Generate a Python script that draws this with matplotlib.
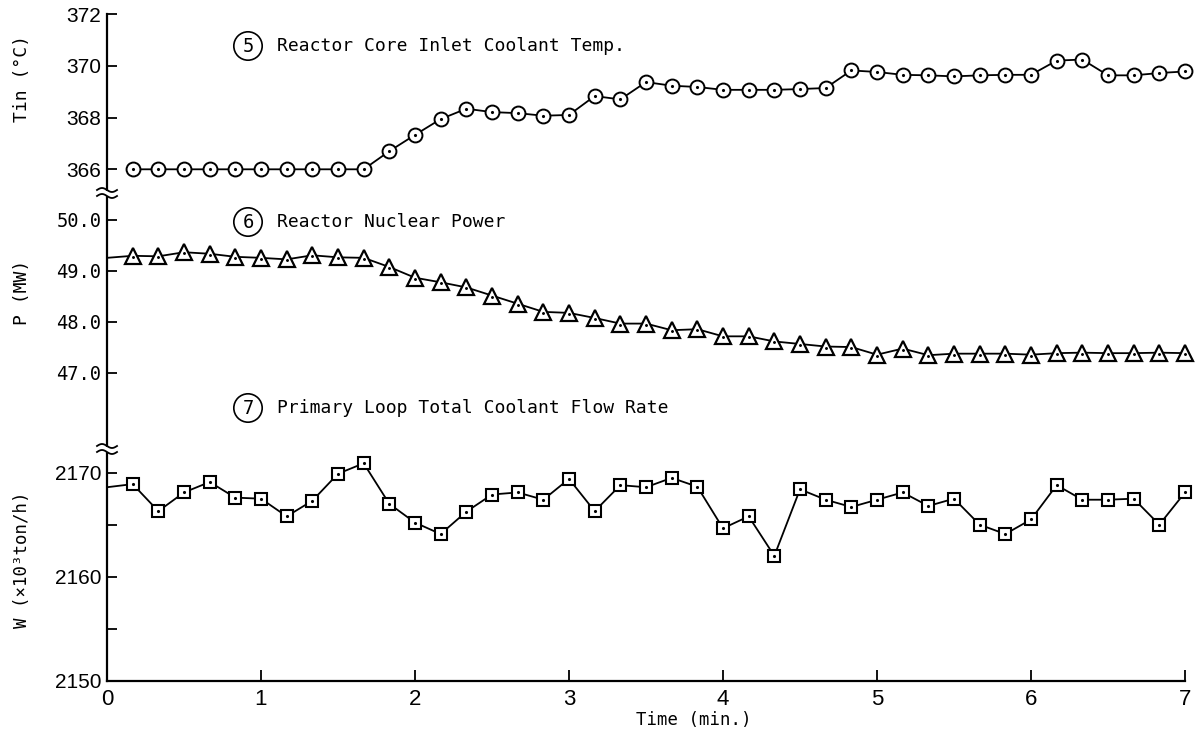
import matplotlib.pyplot as plt
import numpy as np

# time in minutes, one sample every 10 s
t = np.arange(0, 43) / 6.0

# (5) reactor core inlet coolant temperature, deg C (no value drawn at t=0)
tin = [np.nan,
       366.0, 366.0, 366.0, 366.0, 366.0, 366.0, 366.0, 366.0, 366.0, 366.0,
       366.7, 367.33, 367.94, 368.34, 368.21, 368.17, 368.07, 368.1, 368.83, 368.7,
       369.37, 369.23, 369.18, 369.07, 369.07, 369.07, 369.1, 369.14, 369.82, 369.76,
       369.65, 369.63, 369.59, 369.63, 369.65, 369.65, 370.2, 370.24, 369.63, 369.63,
       369.72, 369.78]

# (6) reactor nuclear power, MW
power = [49.25,
         49.29, 49.28, 49.36, 49.33, 49.27, 49.25, 49.22, 49.3, 49.26, 49.25,
         49.07, 48.86, 48.77, 48.67, 48.51, 48.35, 48.19, 48.17, 48.07, 47.96,
         47.96, 47.83, 47.85, 47.71, 47.71, 47.61, 47.56, 47.51, 47.5, 47.35,
         47.47, 47.34, 47.37, 47.37, 47.37, 47.35, 47.38, 47.39, 47.38, 47.38,
         47.39, 47.38]

# (7) primary loop total coolant flow rate, 10^3 ton/h
flow = [2168.6,
        2168.9, 2166.3, 2168.1, 2169.1, 2167.6, 2167.5, 2165.8, 2167.3, 2169.9, 2170.9,
        2167.0, 2165.2, 2164.1, 2166.25, 2167.9, 2168.1, 2167.4, 2169.4, 2166.3, 2168.8,
        2168.6, 2169.5, 2168.65, 2164.65, 2165.8, 2162.0, 2168.4, 2167.4, 2166.7, 2167.4,
        2168.1, 2166.8, 2167.5, 2165.0, 2164.1, 2165.5, 2168.8, 2167.4, 2167.4, 2167.5,
        2165.0, 2168.1]

W, H = 1199, 737
mono = ['DejaVu Sans Mono', 'DejaVu Sans']
narrow = ['Liberation Sans Narrow', 'Liberation Sans', 'DejaVu Sans']

def fx(px):
    return px / W

def fy(py):
    return 1 - py / H

fig = plt.figure(figsize=(W / 100, H / 100), dpi=100)

xl, xr = 107, 1185
panels = [(14, 192.6, (365.1, 372.0)),
          (192.6, 450, (45.48, 50.53)),
          (450, 680.7, (2150.0, 2172.18))]
axes = []
for top, bot, lim in panels:
    ax = fig.add_axes([fx(xl), fy(bot), fx(xr) - fx(xl), (bot - top) / H])
    ax.set_xlim(0, 7)
    ax.set_ylim(*lim)
    ax.patch.set_alpha(0)
    for s in ['top', 'right', 'bottom']:
        ax.spines[s].set_visible(False)
    ax.spines['left'].set_linewidth(1.6)
    ax.tick_params(axis='y', direction='in', length=7, width=1.3, pad=4)
    axes.append(ax)

ax1, ax2, ax3 = axes

lw = 1.3
ax1.plot(t, tin, '-', color='k', lw=lw, marker='o', ms=10, mfc='white', mec='k', mew=1.4, clip_on=False)
ax1.plot(t, tin, '.', color='k', ms=2.5, clip_on=False)
ax1.set_yticks([366, 368, 370, 372])
ax1.set_yticklabels(['366', '368', '370', '372'], family=narrow, fontsize=15)

ax2.plot(t, power, '-', color='k', lw=lw, clip_on=False)
ax2.plot(t[1:], power[1:], ls='none', marker='^', ms=11, mfc='white', mec='k', mew=1.6, clip_on=False)
ax2.plot(t[1:], np.array(power[1:]) - 0.02, '.', color='k', ms=2.2, clip_on=False)
ax2.set_yticks([47, 48, 49, 50])
ax2.set_yticklabels(['47.0', '48.0', '49.0', '50.0'], family=mono, fontsize=13.5)

ax3.plot(t, flow, '-', color='k', lw=lw, clip_on=False)
ax3.plot(t[1:], flow[1:], ls='none', marker='s', ms=9, mfc='white', mec='k', mew=1.5, clip_on=False)
ax3.plot(t[1:], flow[1:], '.', color='k', ms=2.5, clip_on=False)
ax3.set_yticks([2150, 2160, 2170])
ax3.set_yticklabels(['2150', '2160', '2170'], family=narrow, fontsize=15)
ax3.set_yticks([2155, 2165], minor=True)
ax3.tick_params(axis='y', which='minor', direction='in', length=7, width=1.3)
ax3.spines['bottom'].set_visible(True)
ax3.spines['bottom'].set_linewidth(1.6)
ax3.set_xticks(range(8))
ax3.set_xticklabels([str(i) for i in range(8)], family=narrow, fontsize=16)
ax3.tick_params(axis='x', direction='in', length=8, width=1.3, pad=6)
for ax in (ax1, ax2):
    ax.tick_params(axis='x', bottom=False, labelbottom=False)

# axis labels
fig.text(fx(22), fy(78), 'Tin (°C)', rotation=90, ha='center', va='center', family=mono, fontsize=13)
fig.text(fx(22), fy(292), 'P (MW)', rotation=90, ha='center', va='center', family=mono, fontsize=13)
fig.text(fx(22), fy(560), 'W (×10³ton/h)', rotation=90, ha='center', va='center', family=mono, fontsize=12.5)
fig.text(fx(694), fy(720), 'Time (min.)', ha='center', va='center', family=mono, fontsize=12.5)

# curve captions
captions = [('5', 'Reactor Core Inlet Coolant Temp.', 46),
            ('6', 'Reactor Nuclear Power', 222),
            ('7', 'Primary Loop Total Coolant Flow Rate', 408)]
for num, txt, py in captions:
    fig.text(fx(248), fy(py), num, ha='center', va='center', family=mono, fontsize=13.5,
             bbox=dict(boxstyle='circle,pad=0.25', fc='white', ec='k', lw=1.2))
    fig.text(fx(277), fy(py), txt, ha='left', va='center', family=mono, fontsize=13)

# axis break marks on the left spine
xs = np.linspace(97, 117, 30)
for yc in (193, 449):
    fig.patches.append(plt.Rectangle((fx(100), fy(yc + 2.5)), fx(14), 5 / H,
                                     transform=fig.transFigure, fc='white', ec='none', zorder=5))
    for off in (-3, 3):
        ys = yc + off - 2.0 * np.sin((xs - 97) / 20 * 2 * np.pi)
        fig.lines.append(plt.Line2D(fx(xs), fy(ys), transform=fig.transFigure,
                                    color='k', lw=1.3, zorder=6))

plt.savefig('out.png', dpi=100)
